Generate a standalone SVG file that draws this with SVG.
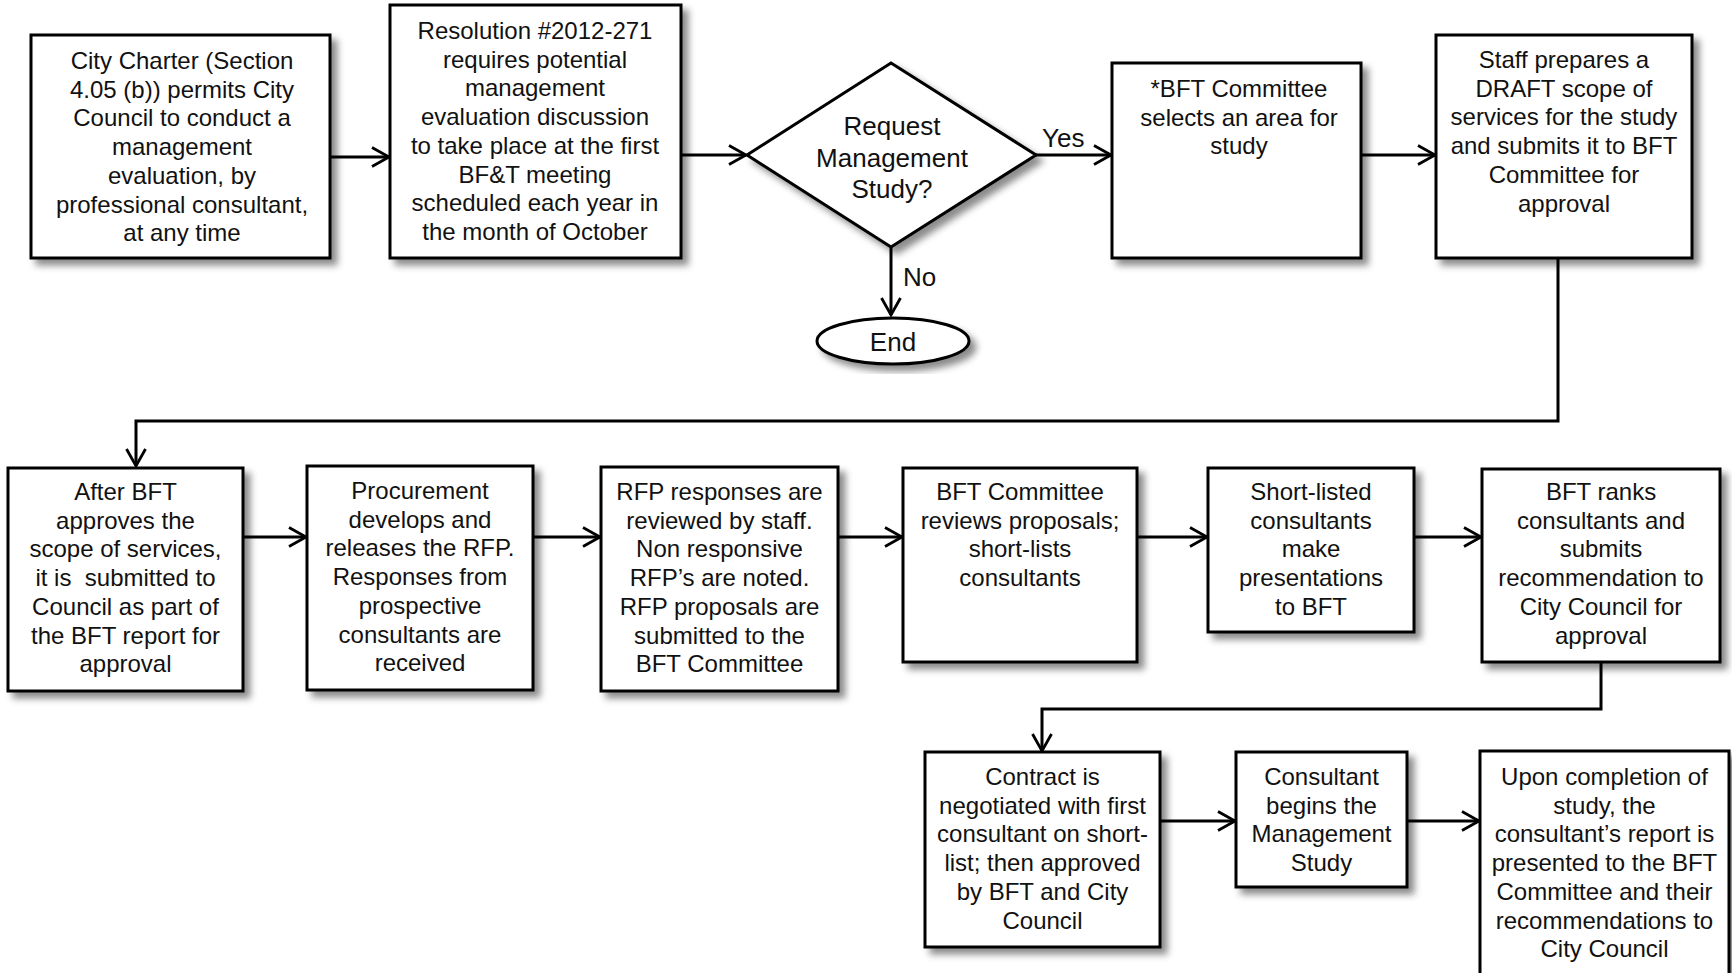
<svg xmlns="http://www.w3.org/2000/svg" width="1732" height="973" viewBox="0 0 1732 973">
<defs>
<style>
.box{fill:#fff;stroke:#000;stroke-width:3;filter:url(#sh)}
.t{font-family:"Liberation Sans",Arial,sans-serif;font-size:24px;fill:#111;text-anchor:middle}
.tl{font-family:"Liberation Sans",Arial,sans-serif;font-size:26px;fill:#111}
.c{fill:none;stroke:#000;stroke-width:3;marker-end:url(#ah)}
</style>
<filter id="sh" x="-10%" y="-10%" width="130%" height="130%">
<feDropShadow dx="6" dy="6" stdDeviation="3.5" flood-color="#000" flood-opacity="0.45"/>
</filter>
<marker id="ah" markerUnits="userSpaceOnUse" markerWidth="26" markerHeight="26" viewBox="-22 -13 26 26" refX="0" refY="0" orient="auto">
<path d="M-17,-9.5 L0,0 L-17,9.5" fill="none" stroke="#000" stroke-width="2.8"/>
</marker>
</defs>
<rect width="1732" height="973" fill="#fff"/>

<g id="connectors">
<path class="c" d="M330,157 L389,157"/>
<path class="c" d="M681,155 L746,155"/>
<path class="c" d="M1036,155 L1111,155"/>
<path class="c" d="M1361,155 L1435,155"/>
<path class="c" d="M891,247 L891,315"/>
<path class="c" d="M1558,258 L1558,421 L136,421 L136,466"/>
<path class="c" d="M243,537 L306,537"/>
<path class="c" d="M533,537 L600,537"/>
<path class="c" d="M838,537 L902,537"/>
<path class="c" d="M1137,537 L1207,537"/>
<path class="c" d="M1414,537 L1481,537"/>
<path class="c" d="M1601,662 L1601,709 L1042,709 L1042,751"/>
<path class="c" d="M1160,821 L1235,821"/>
<path class="c" d="M1407,821 L1479,821"/>
<text class="tl" x="1042" y="147">Yes</text>
<text class="tl" x="903" y="286">No</text>
</g>

<g id="n1">
<rect class="box" x="31" y="35" width="299" height="223"/>
<text class="t"><tspan x="182" y="69">City Charter (Section</tspan><tspan x="182" dy="28.7">4.05 (b)) permits City</tspan><tspan x="182" dy="28.7">Council to conduct a</tspan><tspan x="182" dy="28.7">management</tspan><tspan x="182" dy="28.7">evaluation, by</tspan><tspan x="182" dy="28.7">professional consultant,</tspan><tspan x="182" dy="28.7">at any time</tspan></text>
</g>

<g id="n2">
<rect class="box" x="390" y="5" width="291" height="253"/>
<text class="t"><tspan x="535" y="39">Resolution #2012-271</tspan><tspan x="535" dy="28.7">requires potential</tspan><tspan x="535" dy="28.7">management</tspan><tspan x="535" dy="28.7">evaluation discussion</tspan><tspan x="535" dy="28.7">to take place at the first</tspan><tspan x="535" dy="28.7">BF&amp;T meeting</tspan><tspan x="535" dy="28.7">scheduled each year in</tspan><tspan x="535" dy="28.7">the month of October</tspan></text>
</g>

<g id="n3">
<polygon class="box" points="891,63 1036,155 891,247 747,155"/>
<text class="t" style="font-size:26px"><tspan x="892" y="135">Request</tspan><tspan x="892" dy="31.5">Management</tspan><tspan x="892" dy="31.5">Study?</tspan></text>
</g>

<g id="n4">
<ellipse class="box" cx="893" cy="341" rx="76" ry="23"/>
<text class="t" style="font-size:26px" x="893" y="351">End</text>
</g>

<g id="n5">
<rect class="box" x="1112" y="63" width="249" height="195"/>
<text class="t"><tspan x="1239" y="97">*BFT Committee</tspan><tspan x="1239" dy="28.7">selects an area for</tspan><tspan x="1239" dy="28.7">study</tspan></text>
</g>

<g id="n6">
<rect class="box" x="1436" y="35" width="256" height="223"/>
<text class="t"><tspan x="1564" y="68">Staff prepares a</tspan><tspan x="1564" dy="28.7">DRAFT scope of</tspan><tspan x="1564" dy="28.7">services for the study</tspan><tspan x="1564" dy="28.7">and submits it to BFT</tspan><tspan x="1564" dy="28.7">Committee for</tspan><tspan x="1564" dy="28.7">approval</tspan></text>
</g>

<g id="n7">
<rect class="box" x="8" y="468" width="235" height="223"/>
<text class="t" xml:space="preserve"><tspan x="125.5" y="500">After BFT</tspan><tspan x="125.5" dy="28.7">approves the</tspan><tspan x="125.5" dy="28.7">scope of services,</tspan><tspan x="125.5" dy="28.7">it is  submitted to</tspan><tspan x="125.5" dy="28.7">Council as part of</tspan><tspan x="125.5" dy="28.7">the BFT report for</tspan><tspan x="125.5" dy="28.7">approval</tspan></text>
</g>

<g id="n8">
<rect class="box" x="307" y="466" width="226" height="224"/>
<text class="t"><tspan x="420" y="499">Procurement</tspan><tspan x="420" dy="28.7">develops and</tspan><tspan x="420" dy="28.7">releases the RFP.</tspan><tspan x="420" dy="28.7">Responses from</tspan><tspan x="420" dy="28.7">prospective</tspan><tspan x="420" dy="28.7">consultants are</tspan><tspan x="420" dy="28.7">received</tspan></text>
</g>

<g id="n9">
<rect class="box" x="601" y="467" width="237" height="224"/>
<text class="t"><tspan x="719.5" y="500">RFP responses are</tspan><tspan x="719.5" dy="28.7">reviewed by staff.</tspan><tspan x="719.5" dy="28.7">Non responsive</tspan><tspan x="719.5" dy="28.7">RFP’s are noted.</tspan><tspan x="719.5" dy="28.7">RFP proposals are</tspan><tspan x="719.5" dy="28.7">submitted to the</tspan><tspan x="719.5" dy="28.7">BFT Committee</tspan></text>
</g>

<g id="n10">
<rect class="box" x="903" y="468" width="234" height="194"/>
<text class="t"><tspan x="1020" y="500">BFT Committee</tspan><tspan x="1020" dy="28.7">reviews proposals;</tspan><tspan x="1020" dy="28.7">short-lists</tspan><tspan x="1020" dy="28.7">consultants</tspan></text>
</g>

<g id="n11">
<rect class="box" x="1208" y="468" width="206" height="164"/>
<text class="t"><tspan x="1311" y="500">Short-listed</tspan><tspan x="1311" dy="28.7">consultants</tspan><tspan x="1311" dy="28.7">make</tspan><tspan x="1311" dy="28.7">presentations</tspan><tspan x="1311" dy="28.7">to BFT</tspan></text>
</g>

<g id="n12">
<rect class="box" x="1482" y="469" width="238" height="193"/>
<text class="t"><tspan x="1601" y="500">BFT ranks</tspan><tspan x="1601" dy="28.7">consultants and</tspan><tspan x="1601" dy="28.7">submits</tspan><tspan x="1601" dy="28.7">recommendation to</tspan><tspan x="1601" dy="28.7">City Council for</tspan><tspan x="1601" dy="28.7">approval</tspan></text>
</g>

<g id="n13">
<rect class="box" x="925" y="752" width="235" height="195"/>
<text class="t"><tspan x="1042.5" y="785">Contract is</tspan><tspan x="1042.5" dy="28.7">negotiated with first</tspan><tspan x="1042.5" dy="28.7">consultant on short-</tspan><tspan x="1042.5" dy="28.7">list; then approved</tspan><tspan x="1042.5" dy="28.7">by BFT and City</tspan><tspan x="1042.5" dy="28.7">Council</tspan></text>
</g>

<g id="n14">
<rect class="box" x="1236" y="752" width="171" height="135"/>
<text class="t"><tspan x="1321.5" y="785">Consultant</tspan><tspan x="1321.5" dy="28.7">begins the</tspan><tspan x="1321.5" dy="28.7">Management</tspan><tspan x="1321.5" dy="28.7">Study</tspan></text>
</g>

<g id="n15">
<rect class="box" x="1480" y="751" width="249" height="240"/>
<text class="t"><tspan x="1604.5" y="785">Upon completion of</tspan><tspan x="1604.5" dy="28.7">study, the</tspan><tspan x="1604.5" dy="28.7">consultant’s report is</tspan><tspan x="1604.5" dy="28.7">presented to the BFT</tspan><tspan x="1604.5" dy="28.7">Committee and their</tspan><tspan x="1604.5" dy="28.7">recommendations to</tspan><tspan x="1604.5" dy="28.7">City Council</tspan></text>
</g>
</svg>
